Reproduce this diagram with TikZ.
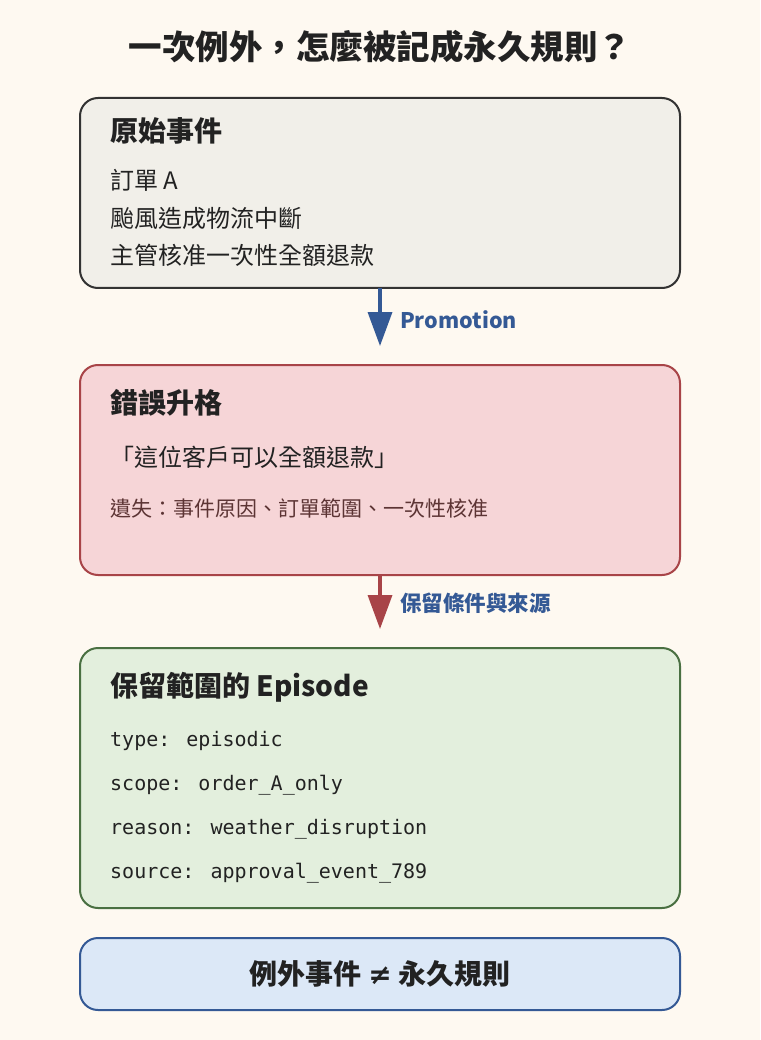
\documentclass[tikz,border=0pt]{standalone}
\usepackage{fontspec}
\setmainfont{Noto Sans CJK TC}
\newfontfamily\monofont{DejaVu Sans Mono}
\newfontfamily\symfont{DejaVu Sans}
\usetikzlibrary{arrows.meta}
\definecolor{bgc}{HTML}{FEF9F1}
\definecolor{txt}{HTML}{222222}
\definecolor{grayfill}{HTML}{F1EFE9}
\definecolor{grayline}{HTML}{333333}
\definecolor{redfill}{HTML}{F6D5D7}
\definecolor{redline}{HTML}{A84448}
\definecolor{redtxt}{HTML}{5C3434}
\definecolor{greenfill}{HTML}{E3EFDD}
\definecolor{greenline}{HTML}{4A7042}
\definecolor{bluefill}{HTML}{DCE8F7}
\definecolor{blueline}{HTML}{345995}
\tikzset{
  panel/.style={rounded corners=18pt, line width=2pt},
  head/.style={anchor=west, inner sep=0pt, font=\fontsize{28}{32}\selectfont\bfseries, text=txt},
  body/.style={anchor=west, inner sep=0pt, font=\fontsize{24}{28}\selectfont, text=txt},
  mono/.style={anchor=west, inner sep=0pt, font=\fontsize{20}{24}\monofont, text=txt},
  lbl/.style={anchor=west, inner sep=0pt, font=\fontsize{21.5}{25}\selectfont\bfseries, text=blueline},
  conn/.style={line width=3.5pt, -{Triangle[length=34pt,width=24pt]}},
}
\begin{document}
\begin{tikzpicture}[x=1pt,y=-1pt]
\useasboundingbox (0,0) rectangle (760,1040);
\fill[bgc] (0,0) rectangle (760,1040);
\node[inner sep=0pt, font=\fontsize{33.5}{38}\selectfont\bfseries, text=txt] (title) at (380,47) {一次例外，怎麼被記成永久規則？};
% box 1
\draw[panel, fill=grayfill, draw=grayline] (80,98) rectangle (680,288);
\coordinate (b1) at (380,288);
\node[head] (h1) at (110,131) {原始事件};
\node[body] (l1a) at (110,180) {訂單 A};
\node[body] (l1b) at (110,218) {颱風造成物流中斷};
\node[body] (l1c) at (110,255) {主管核准一次性全額退款};
% box 2
\draw[panel, fill=redfill, draw=redline] (80,365) rectangle (680,575);
\coordinate (t2) at (380,346);
\coordinate (b2) at (380,575);
\node[head] (h2) at (110,403) {錯誤升格};
\node[body] (l2a) at (110,457) {「這位客戶可以全額退款」};
\node[body, font=\fontsize{21}{25}\selectfont, text=redtxt] (l2b) at (110,508) {遺失：事件原因、訂單範圍、一次性核准};
% box 3
\draw[panel, fill=greenfill, draw=greenline] (80,648) rectangle (680,908);
\coordinate (t3) at (380,629);
\node[head] (h3) at (110,687) {保留範圍的 Episode};
\node[mono] (m1) at (110,741) {type: episodic};
\node[mono] (m2) at (110,785) {scope: order\_A\_only};
\node[mono] (m3) at (110,829) {reason: weather\_disruption};
\node[mono] (m4) at (110,873) {source: approval\_event\_789};
% box 4
\draw[panel, fill=bluefill, draw=blueline] (80,938) rectangle (680,1010);
\node[inner sep=0pt, font=\fontsize{28}{32}\selectfont\bfseries, text=txt] (sum) at (380,974) {例外事件 {\symfont\bfseries ≠} 永久規則};
% connectors
\draw[conn, blueline] (b1) -- (t2);
\node[lbl] (p1) at (400,320) {Promotion};
\draw[conn, redline] (b2) -- (t3);
\node[lbl] (p2) at (400,603) {保留條件與來源};
\end{tikzpicture}
\end{document}
